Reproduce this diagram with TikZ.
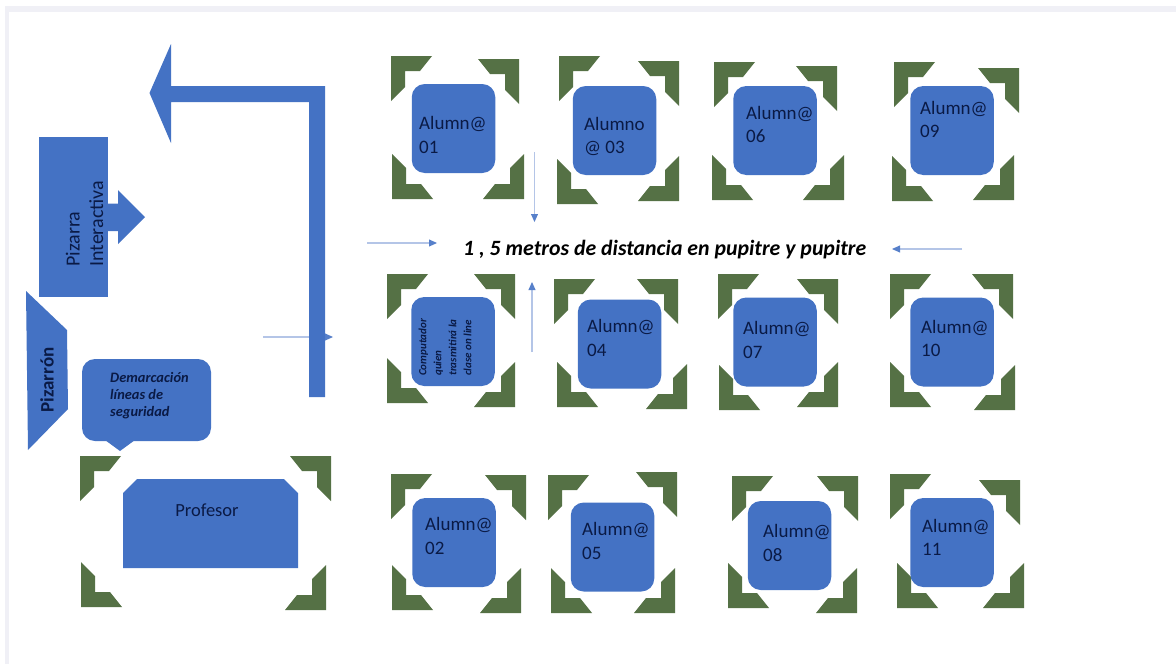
\documentclass[tikz,border=0pt]{standalone}
\usepackage{fontspec}
\setmainfont{Carlito}
\usetikzlibrary{calc,arrows.meta}
\definecolor{boxblue}{HTML}{4472C4}
\definecolor{cornergreen}{HTML}{557145}
\definecolor{inknavy}{HTML}{0A1A45}
\definecolor{thinline}{HTML}{B4C5E7}
\definecolor{frameband}{HTML}{F0F0F6}
\newcommand{\deskcorner}[4]{%
  \fill[cornergreen,shift={(#1,#2)},xscale=#3,yscale=#4]
    (0,0) -- (41,0) -- (29,15) -- (14,15) -- (14,31) -- (0,45) -- cycle;}
\newcommand{\deskcorners}[8]{%
  \deskcorner{#1}{#2}{1}{1}\deskcorner{#3}{#4}{-1}{1}%
  \deskcorner{#5}{#6}{1}{-1}\deskcorner{#7}{#8}{-1}{-1}}
\tikzset{
  deskbox/.style={fill=boxblue,rounded corners=13pt,minimum width=83.5pt,minimum height=89pt,inner sep=0pt,draw=none},
  desklabel/.style={anchor=west,inner sep=0pt,align=left,text=inknavy,font=\fontsize{19}{23.5}\selectfont},
  thinarrow/.style={draw=thinline,line width=1.4pt},
}
\newcommand{\thinarrowdraw}[2]{%
  \draw[thinarrow,shorten >=6pt] (#1) -- (#2);
  \fill[boxblue!90!white] (#2) -- ($(#2)!8pt!(#1)!3.6pt!90:(#1)$) -- ($(#2)!8pt!(#1)!3.6pt!-90:(#1)$) -- cycle;}
\begin{document}
\begin{tikzpicture}[x=1pt,y=-1pt]
\useasboundingbox (0,0) rectangle (1176,664);
\fill[white] (0,0) rectangle (1176,664);
\fill[frameband] (5,6) rectangle (1176,664);
\fill[white] (9,12) rectangle (1176,664);

% thin arrow behind the big arrow
\coordinate (a1s) at (263,337); \coordinate (a1e) at (333,337);
\thinarrowdraw{a1s}{a1e}

% big bent arrow
\fill[boxblue] (149.5,93) -- (171,44) -- (171,86) -- (325,86) -- (325,397) -- (309,397) -- (309,102) -- (171,102) -- (171,143) -- cycle;

% Pizarra interactiva
\fill[boxblue] (108,203.5) -- (118,203.5) -- (118,190) -- (145,217) -- (118,244) -- (118,231) -- (108,231) -- cycle;
\node[fill=boxblue,minimum width=69pt,minimum height=160pt,inner sep=0pt] (pizarra) at (73.5,217) {};
\node[rotate=90,anchor=west,inner sep=0pt,align=left,text=inknavy,font=\fontsize{20}{23.5}\selectfont] (pizarratxt) at (84.5,267) {Pizarra\\Interactiva};

% Pizarron
\fill[boxblue] (26,291) -- (67,330) -- (68,409) -- (28,450) -- cycle;
\node[rotate=90,inner sep=0pt,text=inknavy,font=\fontsize{19}{23}\selectfont\bfseries] (pizarron) at (47,380) {Pizarrón};

% Callout
\fill[boxblue] (105,440) -- (120,451) -- (135,440) -- cycle;
\node[fill=boxblue,rounded corners=13pt,minimum width=129pt,minimum height=82pt,inner sep=0pt] (callout) at (146.5,400) {};
\node[anchor=west,inner sep=0pt,align=left,text=inknavy,font=\fontsize{14.4}{17}\selectfont\bfseries\itshape] (callouttxt) at (110,396) {Demarcación\\líneas de\\seguridad};

% Profesor
\deskcorners{80}{456}{331}{456}{81}{607}{326}{610}
\fill[boxblue] (123,493) -- (137,479) -- (284,479) -- (298,493) -- (298,568) -- (123,568) -- cycle;
\node[inner sep=0pt,text=inknavy,font=\fontsize{18.5}{22}\selectfont] (profesor) at (207,510) {Profesor};

% Desks
\deskcorners{391}{56}{519}{59}{392}{199}{524}{199}
\node[deskbox] (d01) at (453.5,128.5) {};
\node[desklabel] (t01) at (419,135) {Alumn@\\01};

\deskcorners{559}{56}{679}{61}{557}{204}{679}{201}
\node[deskbox] (d03) at (614.5,130.5) {};
\node[desklabel] (t03) at (584,136.5) {Alumno\\@ 03};

\deskcorners{714}{62}{837}{66}{712}{200}{844}{200}
\node[deskbox] (d06) at (775,130.5) {};
\node[desklabel] (t06) at (746,124.5) {Alumn@\\06};

\deskcorners{894}{62}{1019}{68}{892}{201}{1014}{200}
\node[deskbox] (d09) at (952,130.5) {};
\node[desklabel] (t09) at (920,119.5) {Alumn@\\09};

\deskcorners{387}{274}{515}{274}{387}{403}{515}{407}
\node[deskbox] (comp) at (453,341.5) {};
\node[rotate=90,anchor=west,inner sep=0pt,align=left,text=inknavy,font=\fontsize{11}{15}\selectfont\bfseries\itshape] (comptxt) at (445,376) {Computador\\quien\\trasmitirá la\\clase on line};

\deskcorners{554}{279}{678}{279}{557}{407}{687}{409}
\node[deskbox] (d04) at (619.5,344) {};
\node[desklabel] (t04) at (587,338) {Alumn@\\04};

\deskcorners{718}{274}{838}{279}{719}{410}{838}{407}
\node[deskbox] (d07) at (775,342) {};
\node[desklabel] (t07) at (743,340) {Alumn@\\07};

\deskcorners{890}{274}{1013}{274}{890}{407}{1015}{410}
\node[deskbox] (d10) at (952,342) {};
\node[desklabel] (t10) at (921,338.5) {Alumn@\\10};

\deskcorners{391}{474}{526}{475}{392}{610}{521}{613}
\node[deskbox] (d02) at (454,542.5) {};
\node[desklabel] (t02) at (425,536) {Alumn@\\02};

\deskcorners{548}{475}{677}{472}{551}{613}{675}{613}
\node[deskbox] (d05) at (612.5,547) {};
\node[desklabel] (t05) at (582,541) {Alumn@\\05};

\deskcorners{732}{476}{858}{476}{728}{608}{857}{613}
\node[deskbox] (d08) at (789.5,545.5) {};
\node[desklabel] (t08) at (763,543) {Alumn@\\08};

\deskcorners{890}{474}{1020}{480}{897}{608}{1024}{608}
\node[deskbox] (d11) at (952,542.5) {};
\node[desklabel] (t11) at (922,537.5) {Alumn@\\11};

% Caption
\node[anchor=west,inner sep=0pt,text=black,font=\fontsize{21.8}{25}\selectfont\bfseries\itshape] (caption) at (463,250) {1 , 5 metros de distancia en pupitre y pupitre};

% Thin arrows
\coordinate (a2s) at (534.5,152); \coordinate (a2e) at (534.5,222);
\thinarrowdraw{a2s}{a2e}
\coordinate (a3s) at (367,243); \coordinate (a3e) at (437,243);
\thinarrowdraw{a3s}{a3e}
\coordinate (a4s) at (532,352); \coordinate (a4e) at (532,282);
\thinarrowdraw{a4s}{a4e}
\coordinate (a5s) at (962,249); \coordinate (a5e) at (892,249);
\thinarrowdraw{a5s}{a5e}
\end{tikzpicture}
\end{document}
